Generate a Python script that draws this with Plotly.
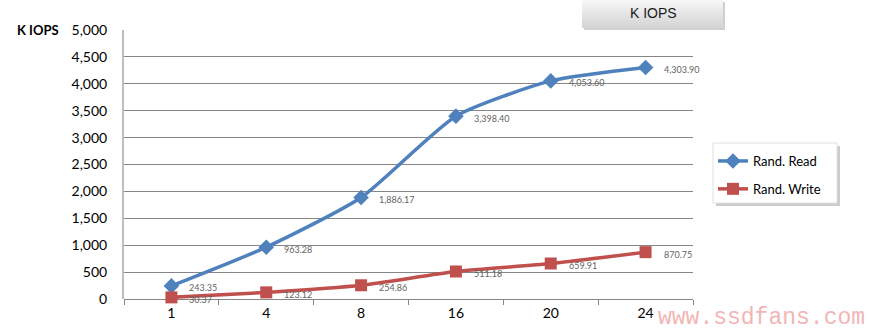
import plotly.graph_objects as go

# Queue depth categories and throughput (K IOPS)
queue_depth = ["1", "4", "8", "16", "20", "24"]
rand_read = [243.35, 963.28, 1886.17, 3398.40, 4053.60, 4303.90]
rand_write = [30.37, 123.12, 254.86, 511.18, 659.91, 870.75]
read_labels = ["243.35", "963.28", "1,886.17", "3,398.40", "4,053.60", "4,303.90"]
write_labels = ["30.37", "123.12", "254.86", "511.18", "659.91", "870.75"]
y_ticks = list(range(0, 5001, 500))

W, H = 869, 332
L, R, T, B = 124, 693, 30, 299  # plot area in pixels


def px(x):
    return (x - L) / (R - L)


def py(y):
    return (B - y) / (B - T)


BLUE = "#4F81BD"
RED = "#C0504D"
FONT = "Lato"

fig = go.Figure()
fig.add_trace(go.Scatter(
    x=queue_depth, y=rand_read, name="Rand. Read", mode="lines+markers",
    line=dict(color=BLUE, width=3.5, shape="spline", smoothing=0.6),
    marker=dict(symbol="diamond", size=12, color=BLUE),
    legendgroup="r", cliponaxis=False,
))
fig.add_trace(go.Scatter(
    x=queue_depth, y=rand_write, name="Rand. Write", mode="lines+markers",
    line=dict(color=RED, width=3.5, shape="spline", smoothing=0.6),
    marker=dict(symbol="square", size=12, color=RED),
    legendgroup="w", cliponaxis=False,
))

annotations = []
for ys, labs in ((rand_read, read_labels), (rand_write, write_labels)):
    for i, (y, t) in enumerate(zip(ys, labs)):
        # category positions are addressed by index on a category axis
        annotations.append(dict(
            x=i, y=y, xref="x", yref="y", text=t, showarrow=False,
            xanchor="left", yanchor="middle", xshift=16, yshift=-2,
            font=dict(family=FONT, size=9, color="#636363"),
        ))

# axis caption
annotations.append(dict(
    x=px(15), y=py(30), xref="paper", yref="paper", text="<b>K IOPS</b>",
    showarrow=False, xanchor="left", yanchor="middle",
    font=dict(family=FONT, size=13, color="#000000"),
))
# header button text
annotations.append(dict(
    x=px(653), y=py(13), xref="paper", yref="paper", text="K IOPS",
    showarrow=False, xanchor="center", yanchor="middle",
    font=dict(family="Liberation Sans", size=14, color="#1a1a1a"),
))
# site mark
annotations.append(dict(
    x=px(656), y=py(333), xref="paper", yref="paper", text="www.ssdfans.com",
    showarrow=False, xanchor="left", yanchor="bottom",
    font=dict(family="Liberation Mono", size=23, color="#f2b5b5"),
))

shapes = []
# header button: shadow + vertical gradient
shapes.append(dict(type="rect", xref="paper", yref="paper",
                   x0=px(584), x1=px(725), y0=py(30), y1=py(2),
                   fillcolor="rgba(120,120,120,0.35)", line=dict(width=0), layer="above"))
n = 14
top_c, bot_c = (246, 246, 246), (212, 212, 212)
for i in range(n):
    f = i / (n - 1)
    c = tuple(int(round(top_c[k] + (bot_c[k] - top_c[k]) * f)) for k in range(3))
    shapes.append(dict(type="rect", xref="paper", yref="paper",
                       x0=px(582), x1=px(723),
                       y0=py(28 * (i + 1) / n), y1=py(28 * i / n - (1 if i == 0 else 0)),
                       fillcolor="rgb(%d,%d,%d)" % c, line=dict(width=0), layer="above"))

# legend panel: shadow + box
shapes.append(dict(type="rect", xref="paper", yref="paper",
                   x0=px(716), x1=px(840), y0=py(206), y1=py(146),
                   fillcolor="rgba(110,110,110,0.35)", line=dict(width=0), layer="above"))
shapes.append(dict(type="rect", xref="paper", yref="paper",
                   x0=px(713), x1=px(837), y0=py(203), y1=py(143),
                   fillcolor="#ffffff", line=dict(color="#e0e0e0", width=1), layer="above"))

fig.update_layout(
    width=W, height=H,
    margin=dict(l=L, r=W - R, t=T, b=H - B),
    paper_bgcolor="white", plot_bgcolor="white",
    showlegend=True,
    legend=dict(
        x=px(713), y=py(146), xanchor="left", yanchor="top",
        bgcolor="rgba(0,0,0,0)", borderwidth=0,
        traceorder="grouped", tracegroupgap=8,
        font=dict(family=FONT, size=13, color="#000000"),
    ),
    xaxis=dict(
        type="category", categoryorder="array", categoryarray=queue_depth,
        range=[-0.5, len(queue_depth) - 0.5], autorange=False,
        showgrid=False, showline=False, zeroline=False,
        ticks="outside", tickson="boundaries", ticklen=5, tickcolor="#868686",
        tickangle=0,
        tickfont=dict(family=FONT, size=14, color="#000000"),
        ticklabelstandoff=4,
    ),
    yaxis=dict(
        range=[0, 5000], autorange=False, tickvals=y_ticks, tickformat=",",
        showgrid=True, gridcolor="#868686", gridwidth=1,
        zeroline=True, zerolinecolor="#868686", zerolinewidth=1,
        showline=True, linecolor="#bdbdbd", linewidth=2,
        ticks="", ticklabelstandoff=12,
        tickfont=dict(family=FONT, size=14, color="#000000"),
    ),
    annotations=annotations,
    shapes=shapes,
)

fig.write_html("out.html")
